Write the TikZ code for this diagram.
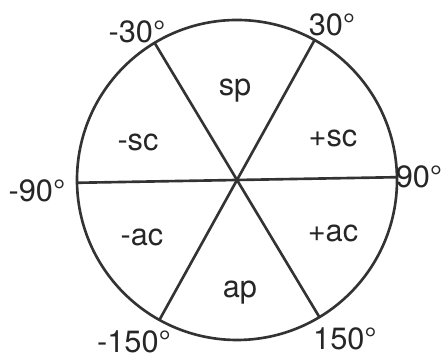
\documentclass[tikz,border=0pt]{standalone}
\usepackage{fontspec}
\setmainfont{TeX Gyre Heros}
\usetikzlibrary{calc}

\begin{document}
\begin{tikzpicture}[x=0.02cm,y=0.02cm, every node/.style={font=\fontsize{17.5}{19}\selectfont, text=black!85},
  spoke/.style={line width=1.5pt, draw=black!80}]
  \useasboundingbox (0,0) rectangle (441,357);
  \coordinate (c) at (237,177);
  \draw[spoke] (c) circle[radius=160];
  % ends of the spokes, whole wheel turned by about one degree
  \foreach \n/\a in {m30/121,p30/61,p90/1,p150/-59,m150/-119,m90/181} {
    \coordinate (\n) at ($(c)+(\a:160)$);
  }
  \draw[spoke] (m30) -- (p150);
  \draw[spoke] (p30) -- (m150);
  \draw[spoke] (m90) -- (p90);
  % angles
  \node (lm30) at (137,325) {-30°};
  \node (lp30) at (332,332) {30°};
  \node (lm90) at (37,166) {-90°};
  \node (lp90) at (419,180) {90°};
  \node (lm150) at (134,15) {-150°};
  \node (lp150) at (345,18) {150°};
  % sectors
  \node (sp) at (235,266) {sp};
  \node (msc) at (138,215) {-sc};
  \node (psc) at (333,219) {+sc};
  \node (mac) at (142,120) {-ac};
  \node (pac) at (333,124) {+ac};
  \node (ap) at (240,64) {ap};
\end{tikzpicture}
\end{document}
